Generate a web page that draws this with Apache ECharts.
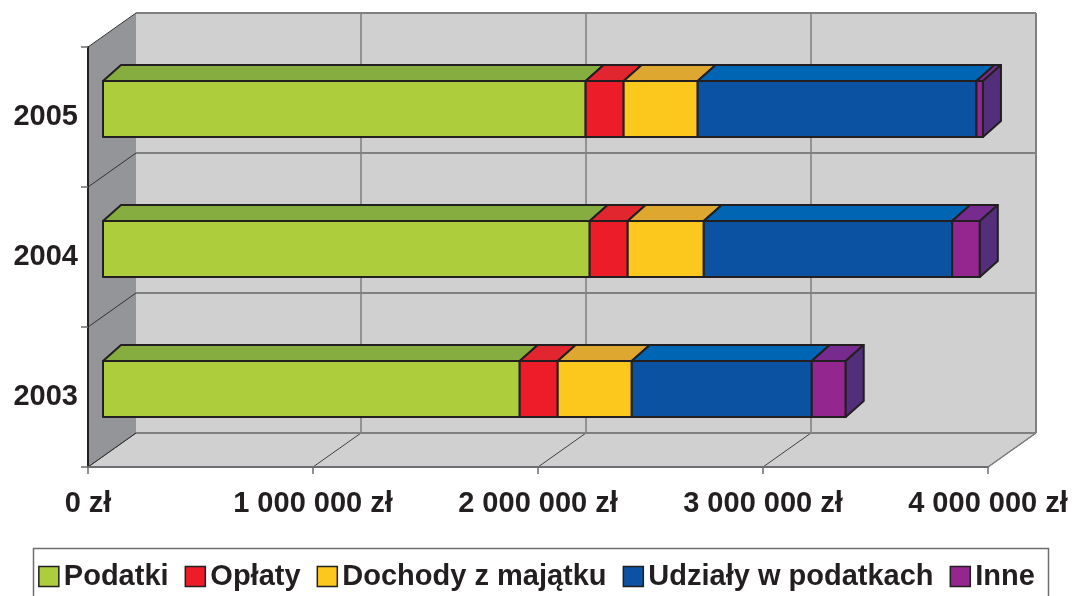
<!DOCTYPE html>
<html>
<head>
<meta charset="utf-8">
<script src="https://cdn.jsdelivr.net/npm/echarts@6/dist/echarts.min.js"></script>
<style>
  html, body { margin: 0; padding: 0; background: #fff; }
  #chart { width: 1073px; height: 596px; }
</style>
</head>
<body>
<div id="chart"></div>
<script>
// dane (zł)
var years = ['2003', '2004', '2005'];
var seriesNames = ['Podatki', 'Opłaty', 'Dochody z majątku', 'Udziały w podatkach', 'Inne'];
var podatki = [1852000, 2163000, 2145000];
var oplaty = [169000, 169000, 169000];
var dochody = [329000, 338000, 329000];
var udzialy = [800000, 1104000, 1239000];
var inne = [151000, 123000, 29000];
var xTicks = [0, 1000000, 2000000, 3000000, 4000000];

var values = [podatki, oplaty, dochody, udzialy, inne];
var frontColors = ['#ADCD3D', '#ED1C29', '#FCC81E', '#0B52A3', '#93278F'];
var topColors = ['#86AD40', '#E1262F', '#DDA730', '#0066B3', '#782B8E'];
var sideColor = '#532E7B';
var lineColor = '#231F20';

// pseudo 3D
var depth = [48, -34];      // przesunięcie tylnej ściany
var barFront = [15, -8];    // przód słupka względem płaszczyzny osi
var barTop = [18, -16];     // głębokość słupka

function fmt(v) {
  return String(v).replace(/\B(?=(\d{3})+(?!\d))/g, ' ') + ' zł';
}

var chart = echarts.init(document.getElementById('chart'));

function renderWalls(params, api) {
  if (params.dataIndex !== 0) return;
  var cs = params.coordSys;
  var x0 = cs.x, y0 = cs.y, x1 = cs.x + cs.width, y1 = cs.y + cs.height;
  var dx = depth[0], dy = depth[1];
  var band = api.size([0, 1])[1];
  var children = [];
  // sciana lewa
  children.push({type: 'polygon', shape: {points: [[x0, y0], [x0 + dx, y0 + dy], [x0 + dx, y1 + dy], [x0, y1]]},
    style: {fill: '#939598', stroke: null}});
  // sciana tylna
  children.push({type: 'rect', shape: {x: x0 + dx, y: y0 + dy, width: x1 - x0, height: y1 - y0},
    style: {fill: '#D0D0D0', stroke: null}});
  // podloga
  children.push({type: 'polygon', shape: {points: [[x0, y1], [x0 + dx, y1 + dy], [x1 + dx, y1 + dy], [x1, y1]]},
    style: {fill: '#D0D0D0', stroke: null}});
  // linie siatki pionowe
  xTicks.forEach(function (v) {
    var px = api.coord([v, 0])[0];
    if (v > 0) {
      children.push({type: 'line', shape: {x1: px + dx, y1: y0 + dy, x2: px + dx, y2: y1 + dy},
        style: {stroke: '#7E7E7E', lineWidth: 1.5}});
    }
    children.push({type: 'line', shape: {x1: px + dx, y1: y1 + dy, x2: px, y2: y1},
      style: {stroke: '#404040', lineWidth: 1}});
  });
  // linie siatki poziome
  for (var k = 0; k <= years.length; k++) {
    var yb = y0 + k * band;
    children.push({type: 'line', shape: {x1: x0 + dx, y1: yb + dy, x2: x1 + dx, y2: yb + dy},
      style: {stroke: '#808080', lineWidth: 2}});
    children.push({type: 'line', shape: {x1: x0, y1: yb, x2: x0 + dx, y2: yb + dy},
      style: {stroke: '#333333', lineWidth: 1}});
  }
  children.push({type: 'line', shape: {x1: x1 + dx, y1: y0 + dy, x2: x1 + dx, y2: y1 + dy},
    style: {stroke: '#808080', lineWidth: 2}});
  children.push({type: 'line', shape: {x1: x1 + dx, y1: y1 + dy, x2: x1, y2: y1},
    style: {stroke: '#808080', lineWidth: 1.5}});
  return {type: 'group', children: children};
}

function makeBarRenderer(isLast) {
  return function (params, api) {
    var c = api.value(0), s = api.value(1), e = api.value(2);
    if (e <= s) return;
    var a = api.coord([s, c]);
    var b = api.coord([e, c]);
    var h = api.size([0, 1])[1] * 0.4;
    var xa = a[0] + barFront[0], xb = b[0] + barFront[0];
    var top = a[1] + barFront[1] - h / 2, bot = top + h;
    var tx = barTop[0], ty = barTop[1];
    var color = api.visual('color');
    var st = {stroke: lineColor, lineWidth: 2, lineJoin: 'round'};
    var children = [
      {type: 'rect', shape: {x: xa, y: top, width: xb - xa, height: h},
        style: Object.assign({fill: color}, st)},
      {type: 'polygon', shape: {points: [[xa, top], [xa + tx, top + ty], [xb + tx, top + ty], [xb, top]]},
        style: Object.assign({fill: topColors[params.seriesIndex - 1]}, st)}
    ];
    if (isLast) {
      children.push({type: 'polygon', shape: {points: [[xb, top], [xb + tx, top + ty], [xb + tx, bot + ty], [xb, bot]]},
        style: Object.assign({fill: sideColor}, st)});
    }
    return {type: 'group', children: children};
  };
}

var series = [{
  type: 'custom',
  name: 'walls',
  silent: true,
  clip: false,
  renderItem: renderWalls,
  data: [[0, 0]],
  encode: {x: 0, y: 1}
}];

var cum = years.map(function () { return 0; });
values.forEach(function (arr, i) {
  var data = arr.map(function (v, j) {
    var item = [j, cum[j], cum[j] + v];
    cum[j] += v;
    return item;
  });
  series.push({
    type: 'custom',
    name: seriesNames[i],
    clip: false,
    itemStyle: {color: frontColors[i]},
    renderItem: makeBarRenderer(i === values.length - 1),
    encode: {x: [1, 2], y: 0},
    data: data
  });
});

var option = {
  animation: false,
  textStyle: {fontFamily: 'Liberation Sans, Arial, sans-serif'},
  grid: {left: 88, right: 85, top: 47, bottom: 129},
  xAxis: {
    type: 'value',
    min: 0,
    max: 4000000,
    interval: 1000000,
    z: 5,
    splitLine: {show: false},
    axisLine: {show: true, lineStyle: {color: '#6D6E71', width: 2}},
    axisTick: {show: true, length: 7, lineStyle: {color: '#6D6E71', width: 1.5}},
    axisLabel: {
      formatter: fmt,
      margin: 22,
      fontSize: 29,
      fontWeight: 'bold',
      color: lineColor
    }
  },
  yAxis: {
    type: 'category',
    data: years,
    z: 5,
    axisLine: {show: true, lineStyle: {color: lineColor, width: 2}},
    axisTick: {show: true, length: 7, lineStyle: {color: '#6D6E71', width: 1.5}},
    axisLabel: {
      margin: 10,
      fontSize: 29,
      fontWeight: 'bold',
      color: lineColor
    }
  },
  legend: {
    data: seriesNames,
    left: 'center',
    top: 562,
    padding: 0,
    itemGap: 16,
    itemWidth: 20,
    itemHeight: 20,
    icon: 'rect',
    itemStyle: {borderColor: lineColor, borderWidth: 1.5},
    textStyle: {fontSize: 29, fontWeight: 'bold', color: lineColor, fontFamily: 'Liberation Sans, Arial, sans-serif'}
  },
  graphic: [{
    type: 'rect',
    silent: true,
    shape: {x: 33.5, y: 548.5, width: 1015, height: 80},
    style: {fill: null, stroke: '#6D6E71', lineWidth: 1.5}
  }],
  series: series
};

chart.setOption(option);
</script>
</body>
</html>
